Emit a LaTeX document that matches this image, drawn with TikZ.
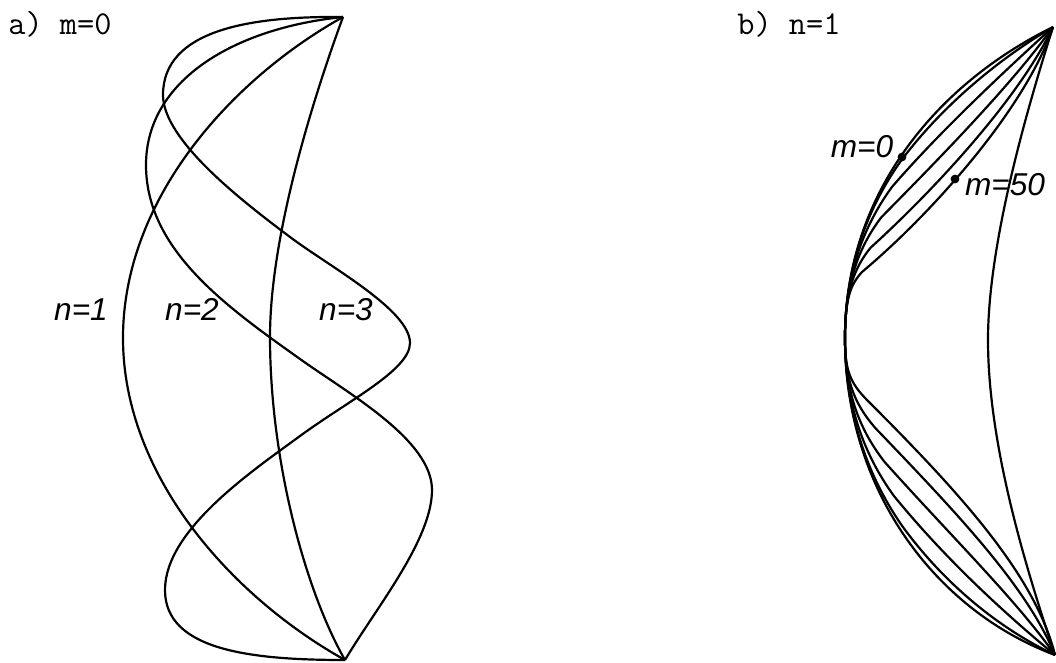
\documentclass[tikz,border=0pt]{standalone}
\usepackage{fontspec}
\newfontfamily\plotfont{Liberation Sans}
\usetikzlibrary{calc}

\begin{document}
\begin{tikzpicture}[x=0.02cm, y=-0.02cm,
  curve/.style={line width=1.25pt, line join=round},
  lab/.style={font=\plotfont\itshape\fontsize{18}{20}\selectfont, inner sep=0pt, anchor=base},
  ttl/.style={font=\ttfamily\fontsize{19}{21}\selectfont, inner sep=0pt, anchor=base west},
  dot/.style={circle, fill, inner sep=0pt, minimum size=5pt}]
  \useasboundingbox (0,0) rectangle (1056,663);
  % a) m=0
  \node[ttl] (ttla) at (8,34) {a) m=0};
  \coordinate (Ta) at (343,17);
  \coordinate (Ba) at (345,660);
  \draw[curve] (Ta) .. controls (318,85) and (270,230) .. (270,337)
    .. controls (270,460) and (305,590) .. (Ba);
  \draw[curve] (Ta) .. controls (230,80) and (123,200) .. (123,338)
    .. controls (123,476) and (232,597) .. (Ba);
  \draw[curve] (Ta) .. controls (235,28) and (146,80) .. (146,165)
    .. controls (146,250) and (226.7,306.8) .. (300,359)
    .. controls (348.8,393.8) and (432,440) .. (432,490)
    .. controls (432,540) and (375.6,608.4) .. (Ba);
  \draw[curve] (Ta) .. controls (250,16) and (163,30) .. (163,95)
    .. controls (163,140) and (242,201) .. (290,237)
    .. controls (330,267) and (410,310) .. (410,343)
    .. controls (410,370) and (348.4,400.5) .. (300,436)
    .. controls (251.6,471.5) and (165,530) .. (165,590)
    .. controls (165,650) and (250,660) .. (Ba);
  \node[lab] (n1) at (81,320) {n=1};
  \node[lab] (n2) at (192,320) {n=2};
  \node[lab] (n3) at (346,320) {n=3};
  % b) n=1
  \node[ttl] (ttlb) at (737,34) {b) n=1};
  \coordinate (Tb) at (1053,27);
  \coordinate (Bb) at (1055,655);
  \coordinate (Mb) at (845,338);
  \draw[curve] (Tb) .. controls (1030,100) and (988,240) .. (988,340)
    .. controls (988,450) and (1030,580) .. (Bb);
  \coordinate (uo1) at (845,266.5);  \coordinate (ui1) at (845,300);
  \coordinate (uo2) at (867.5,203.25); \coordinate (ui2) at (850,285);
  \coordinate (uo3) at (904.75,150.6); \coordinate (ui3) at (862,272);
  \coordinate (uo4) at (942,98);      \coordinate (ui4) at (930,215);
  \coordinate (uo5) at (994,56);      \coordinate (ui5) at (1025,110);
  \coordinate (lo1) at (845,414);     \coordinate (li1) at (845,370);
  \coordinate (lo2) at (867.5,482);   \coordinate (li2) at (849.6,382.6);
  \coordinate (lo3) at (905,536.6);   \coordinate (li3) at (868,401);
  \coordinate (lo4) at (942.5,591.25); \coordinate (li4) at (960,493);
  \coordinate (lo5) at (995,632.5);   \coordinate (li5) at (1035,575);
  \foreach \s in {0,0.08,0.3,0.55,0.8,1}{
    \draw[curve] (Mb) .. controls ($(uo1)!\s!(ui1)$) and ($(uo2)!\s!(ui2)$) .. ($(uo3)!\s!(ui3)$)
      .. controls ($(uo4)!\s!(ui4)$) and ($(uo5)!\s!(ui5)$) .. (Tb);
    \draw[curve] (Mb) .. controls ($(lo1)!\s!(li1)$) and ($(lo2)!\s!(li2)$) .. ($(lo3)!\s!(li3)$)
      .. controls ($(lo4)!\s!(li4)$) and ($(lo5)!\s!(li5)$) .. (Bb);
  }
  \node[dot] (d0) at (902,157) {};
  \node[dot] (d50) at (955,179) {};
  \node[lab] (m0) at (862,157) {m=0};
  \node[lab] (m50) at (1005,195) {m=50};
\end{tikzpicture}
\end{document}
